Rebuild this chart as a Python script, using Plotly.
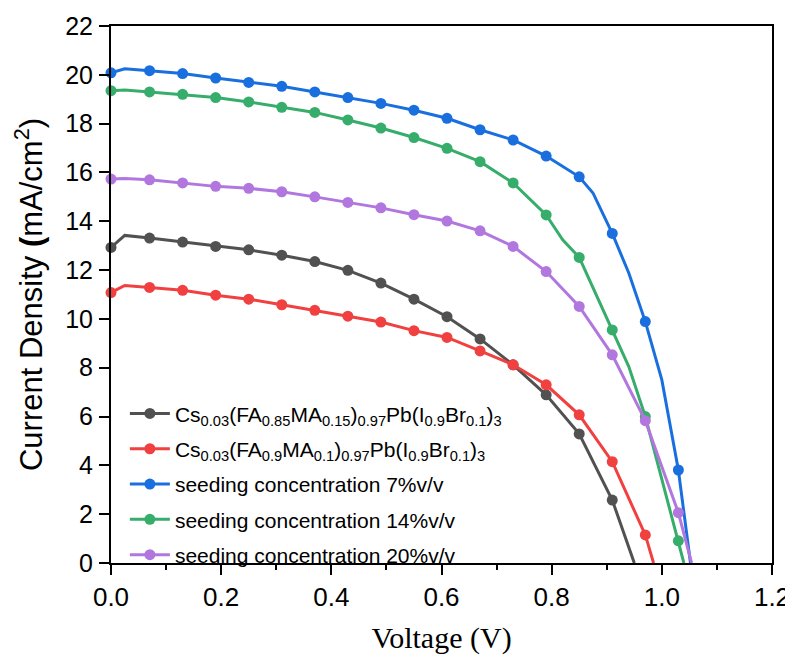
import plotly.graph_objects as go

# ---- data ----
V_markers = [0.0, 0.07, 0.13, 0.19, 0.25, 0.31, 0.37, 0.43, 0.49, 0.55,
             0.61, 0.67, 0.73, 0.79, 0.85, 0.91, 0.97, 1.03]

J_ref85 = [12.93, 13.31, 13.15, 12.97, 12.83, 12.61, 12.35, 11.99, 11.47, 10.81,
           10.09, 9.18, 8.12, 6.89, 5.29, 2.58]
J_ref90 = [11.08, 11.29, 11.17, 10.97, 10.81, 10.58, 10.35, 10.11, 9.87, 9.52,
           9.24, 8.69, 8.12, 7.30, 6.07, 4.15, 1.15]
J_seed7 = [20.08, 20.17, 20.05, 19.87, 19.69, 19.53, 19.30, 19.07, 18.83, 18.55,
           18.22, 17.75, 17.33, 16.67, 15.82, 13.50, 9.89, 3.81]
J_seed14 = [19.35, 19.30, 19.20, 19.07, 18.89, 18.67, 18.46, 18.15, 17.82, 17.43,
            16.99, 16.44, 15.57, 14.26, 12.52, 9.55, 6.00, 0.91]
J_seed20 = [15.73, 15.70, 15.57, 15.43, 15.35, 15.21, 15.00, 14.77, 14.55, 14.27,
            14.01, 13.61, 12.97, 11.94, 10.51, 8.53, 5.83, 2.06]

# extra points of the measured curves between markers (peak near 0 V, knee, Voc)
X_ref85_v, X_ref85_j = [0.025, 0.950], [13.42, 0.0]
X_ref90_v, X_ref90_j = [0.025, 0.985], [11.37, 0.0]
X_seed7_v, X_seed7_j = [0.025, 0.875, 0.94, 1.0, 1.052], [20.25, 15.16, 11.88, 7.5, 0.0]
X_seed14_v, X_seed14_j = [0.025, 0.82, 0.94, 1.040], [19.38, 13.24, 8.05, 0.0]
X_seed20_v, X_seed20_j = [0.025, 1.054], [15.75, 0.0]

names = [
    "Cs<sub>0.03</sub>(FA<sub>0.85</sub>MA<sub>0.15</sub>)<sub>0.97</sub>Pb(I<sub>0.9</sub>Br<sub>0.1</sub>)<sub>3</sub>",
    "Cs<sub>0.03</sub>(FA<sub>0.9</sub>MA<sub>0.1</sub>)<sub>0.97</sub>Pb(I<sub>0.9</sub>Br<sub>0.1</sub>)<sub>3</sub>",
    "seeding concentration 7%v/v",
    "seeding concentration 14%v/v",
    "seeding concentration 20%v/v",
]
colors = ["#515151", "#F14040", "#1A6FDF", "#37AD6B", "#B177DE"]

series = [
    (J_ref85, X_ref85_v, X_ref85_j),
    (J_ref90, X_ref90_v, X_ref90_j),
    (J_seed7, X_seed7_v, X_seed7_j),
    (J_seed14, X_seed14_v, X_seed14_j),
    (J_seed20, X_seed20_v, X_seed20_j),
]

fig = go.Figure()
for i, ((jm, xv, xj), name, col) in enumerate(zip(series, names, colors)):
    vm = V_markers[:len(jm)]
    pts = sorted(list(zip(vm, jm)) + list(zip(xv, xj)))
    lx = [p[0] for p in pts]
    ly = [p[1] for p in pts]
    g = f"g{i}"
    fig.add_trace(go.Scatter(x=lx, y=ly, mode="lines", line=dict(color=col, width=3),
                             showlegend=False, legendgroup=g, hoverinfo="skip",
                             cliponaxis=False))
    fig.add_trace(go.Scatter(x=vm, y=jm, mode="markers",
                             marker=dict(color=col, size=11),
                             showlegend=False, legendgroup=g, cliponaxis=False))
    fig.add_trace(go.Scatter(x=[None], y=[None], mode="lines+markers", name=name,
                             line=dict(color=col, width=3),
                             marker=dict(color=col, size=11), legendgroup=g))

# the page body adds an 8px offset, so the figure is 785x647 placed at (8, 8)
fig.update_layout(
    width=785, height=647,
    margin=dict(l=103, r=21, t=18, b=92),
    paper_bgcolor="white", plot_bgcolor="white",
    font=dict(family="Liberation Sans, Arial", color="black", size=20),
    showlegend=True,
    legend=dict(x=0.021, y=0.316, xanchor="left", yanchor="top",
                bgcolor="rgba(0,0,0,0)", font=dict(size=21, family="Liberation Sans, Arial"),
                tracegroupgap=5, traceorder="grouped", itemwidth=40),
)
fig.update_xaxes(
    range=[0, 1.2], tick0=0, dtick=0.2, tickformat=".1f",
    showgrid=False, zeroline=False, automargin=False,
    showline=True, linecolor="black", linewidth=2, mirror=True,
    ticks="outside", ticklen=10, tickwidth=1.5, tickcolor="black",
    minor=dict(ticks="outside", ticklen=5, tickwidth=1.5, tickcolor="black", dtick=0.1),
    tickfont=dict(size=26), ticklabelstandoff=0, ticklabeloverflow="allow",
    title=dict(text="Voltage (V)", font=dict(family="Liberation Serif, Times New Roman", size=30),
               standoff=32),
)
fig.update_yaxes(
    range=[0, 22], tick0=0, dtick=2,
    showgrid=False, zeroline=False, automargin=False,
    showline=True, linecolor="black", linewidth=2, mirror=True,
    ticks="outside", ticklen=10, tickwidth=1.5, tickcolor="black",
    tickfont=dict(size=25), ticklabelstandoff=1,
    title=dict(text="Current Density <b>(</b>mA/cm<sup>2</sup>)", font=dict(size=31),
               standoff=13),
)

fig.write_html("out.html")
